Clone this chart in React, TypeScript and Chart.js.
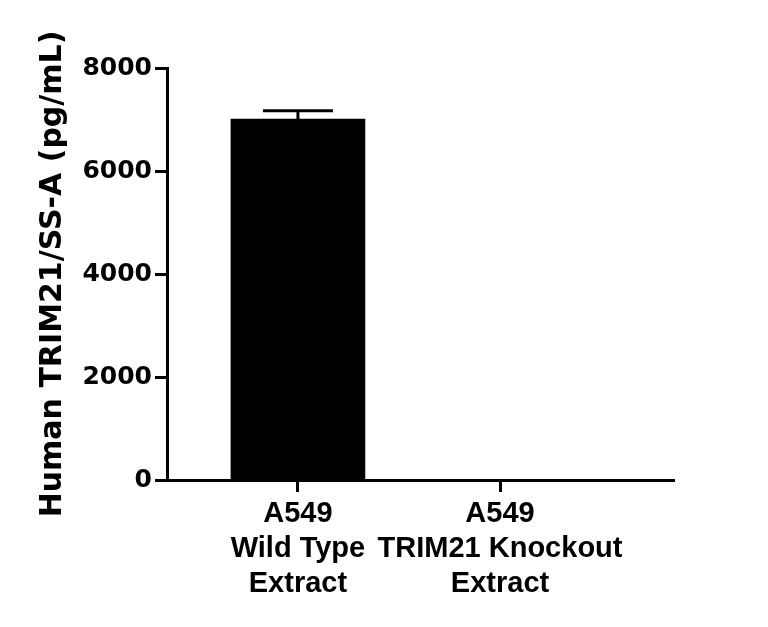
import React, { useEffect, useRef } from "react";
import Chart from "chart.js/auto";

// groups
const groupLabels = [
  ["A549", "Wild Type", "Extract"],
  ["A549", "TRIM21 Knockout", "Extract"],
];
const groupPositions = [1, 2];
const meanValues = [7010, 0];
const sdValues = [160, 0];
const yTicks = [0, 2000, 4000, 6000, 8000];

const errorBars = {
  id: "errorBars",
  afterDatasetsDraw(chart) {
    const { ctx } = chart;
    const yScale = chart.scales.y;
    const meta = chart.getDatasetMeta(0);
    ctx.save();
    ctx.strokeStyle = "#000";
    ctx.lineWidth = 3;
    meta.data.forEach((bar, i) => {
      if (!sdValues[i]) return;
      const x = bar.x;
      const yTop = yScale.getPixelForValue(meanValues[i] + sdValues[i]);
      const yMean = yScale.getPixelForValue(meanValues[i]);
      ctx.beginPath();
      ctx.moveTo(x, yMean);
      ctx.lineTo(x, yTop);
      ctx.moveTo(x - 35, yTop);
      ctx.lineTo(x + 35, yTop);
      ctx.stroke();
    });
    ctx.restore();
  },
};

const App = () => {
  const canvasRef = useRef(null);

  useEffect(() => {
    document.body.style.margin = "0";
    const chart = new Chart(canvasRef.current.getContext("2d"), {
      type: "bar",
      data: {
        datasets: [
          {
            data: groupPositions.map((x, i) => ({ x, y: meanValues[i] })),
            backgroundColor: "#000",
            borderWidth: 0,
            barThickness: 134,
          },
        ],
      },
      options: {
        animation: false,
        responsive: false,
        layout: { padding: { top: 68, right: 94, left: 0, bottom: 0 } },
        plugins: { legend: { display: false }, tooltip: { enabled: false } },
        scales: {
          x: {
            type: "linear",
            min: 0.352,
            max: 2.861,
            offset: false,
            afterBuildTicks: (scale) => {
              scale.ticks = groupPositions.map((value) => ({ value }));
            },
            afterFit: (scale) => {
              scale.height = 147;
            },
            ticks: {
              color: "#000",
              padding: 5,
              font: { family: "'Liberation Sans', Arial, sans-serif", size: 29, weight: "bold", lineHeight: 1.2 },
              callback: (value) => {
                const i = groupPositions.indexOf(value);
                return i >= 0 ? groupLabels[i] : "";
              },
            },
            grid: {
              offset: false,
              drawOnChartArea: false,
              drawTicks: true,
              tickLength: 12,
              tickWidth: 3,
              tickColor: "#000",
            },
            border: { color: "#000", width: 3 },
          },
          y: {
            min: 0,
            max: 8000,
            afterBuildTicks: (scale) => {
              scale.ticks = yTicks.map((value) => ({ value }));
            },
            afterFit: (scale) => {
              scale.width = 167;
            },
            ticks: {
              color: "#000",
              padding: 3,
              font: { family: "'DejaVu Sans', sans-serif", size: 25, weight: "bold" },
              callback: (value) => String(value),
            },
            grid: {
              drawOnChartArea: false,
              drawTicks: true,
              tickLength: 12,
              tickWidth: 3,
              tickColor: "#000",
            },
            border: { color: "#000", width: 3 },
            title: {
              display: true,
              text: "Human TRIM21/SS-A (pg/mL)",
              color: "#000",
              padding: { top: 35, bottom: 0 },
              font: { family: "'DejaVu Sans', sans-serif", size: 30, weight: "bold", lineHeight: 1.2 },
            },
          },
        },
      },
      plugins: [errorBars],
    });
    return () => {
      chart.destroy();
    };
  }, []);

  return (
    <div style={{ width: 768, height: 627 }}>
      <canvas ref={canvasRef} width={768} height={627} />
    </div>
  );
};

export default App;
